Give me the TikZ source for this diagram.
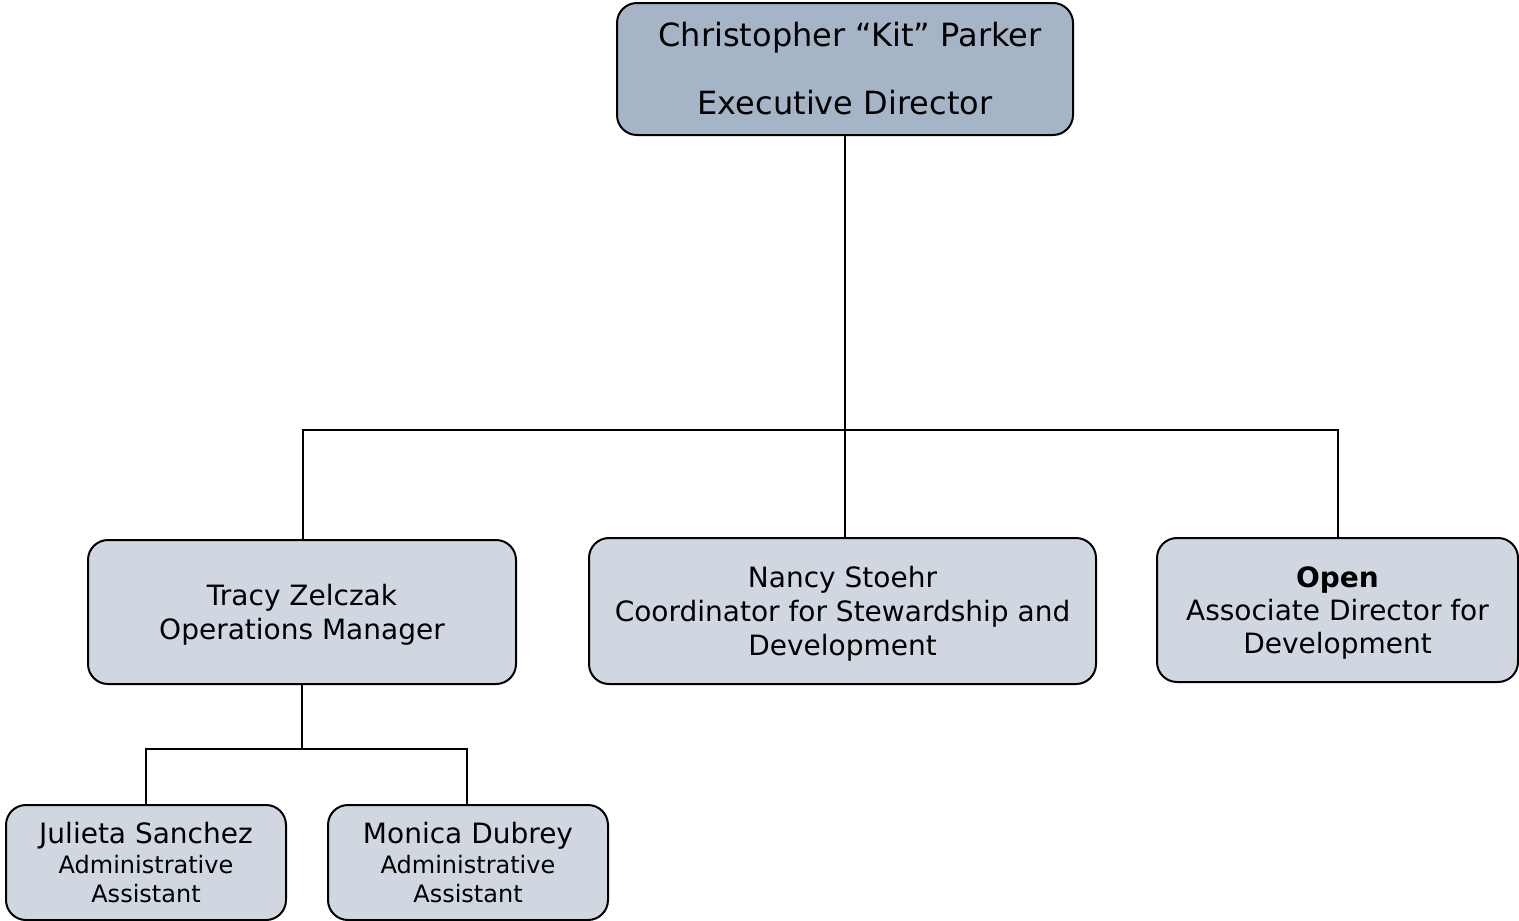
\documentclass[tikz,border=0pt]{standalone}
\usepackage{fontspec}
\setmainfont{DejaVu Sans}
\definecolor{topfill}{HTML}{A6B4C8}
\definecolor{boxfill}{HTML}{D0D7E1}
\begin{document}
\begin{tikzpicture}[x=1pt,y=-1pt,
  box/.style={draw=black,line width=2pt,rounded corners=20pt,fill=boxfill,align=center,inner sep=0pt},
  conn/.style={line width=2pt,line cap=rect}]
\useasboundingbox (0,0) rectangle (1519,921);
\node[box,fill=topfill,minimum width=456pt,minimum height=132pt,font={\fontsize{32}{34}\selectfont}] (ed) at (845,69)
  {\hspace*{10pt}Christopher “Kit” Parker\\[34pt]Executive Director};
\node[box,minimum width=428pt,minimum height=144pt,font={\fontsize{28}{34}\selectfont}] (tz) at (302,612)
  {\rule{0pt}{26pt}Tracy Zelczak\\ Operations Manager};
\node[box,minimum width=507pt,minimum height=146pt,font={\fontsize{28}{34}\selectfont}] (ns) at (842.5,611)
  {\rule{0pt}{27pt}Nancy Stoehr\\ Coordinator for Stewardship and\\ Development};
\node[box,minimum width=361pt,minimum height=144pt,font={\fontsize{28}{33}\selectfont}] (op) at (1337.5,610)
  {\rule{0pt}{26pt}\textbf{Open}\\ Associate Director for\\ Development};
\node[box,minimum width=280pt,minimum height=115pt,font={\fontsize{24}{30}\selectfont}] (js) at (146,862.5)
  {{\fontsize{28}{30}\selectfont Julieta Sanchez}\\ Administrative\\[-1pt] Assistant};
\node[box,minimum width=280pt,minimum height=115pt,font={\fontsize{24}{30}\selectfont}] (md) at (468,862.5)
  {{\fontsize{28}{30}\selectfont Monica Dubrey}\\ Administrative\\[-1pt] Assistant};
\coordinate (hl) at (303,430);
\coordinate (hr) at (1338,430);
\coordinate (bl) at (146,749);
\coordinate (br) at (467,749);
\coordinate (bm) at (302,749);
\draw[conn] (ed.south) -- (ed.south |- ns.north);
\draw[conn] (hl |- tz.north) -- (hl) -- (hr) -- (hr |- op.north);
\draw[conn] (tz.south) -- (bm);
\draw[conn] (bl |- js.north) -- (bl) -- (br) -- (br |- md.north);
\end{tikzpicture}
\end{document}
